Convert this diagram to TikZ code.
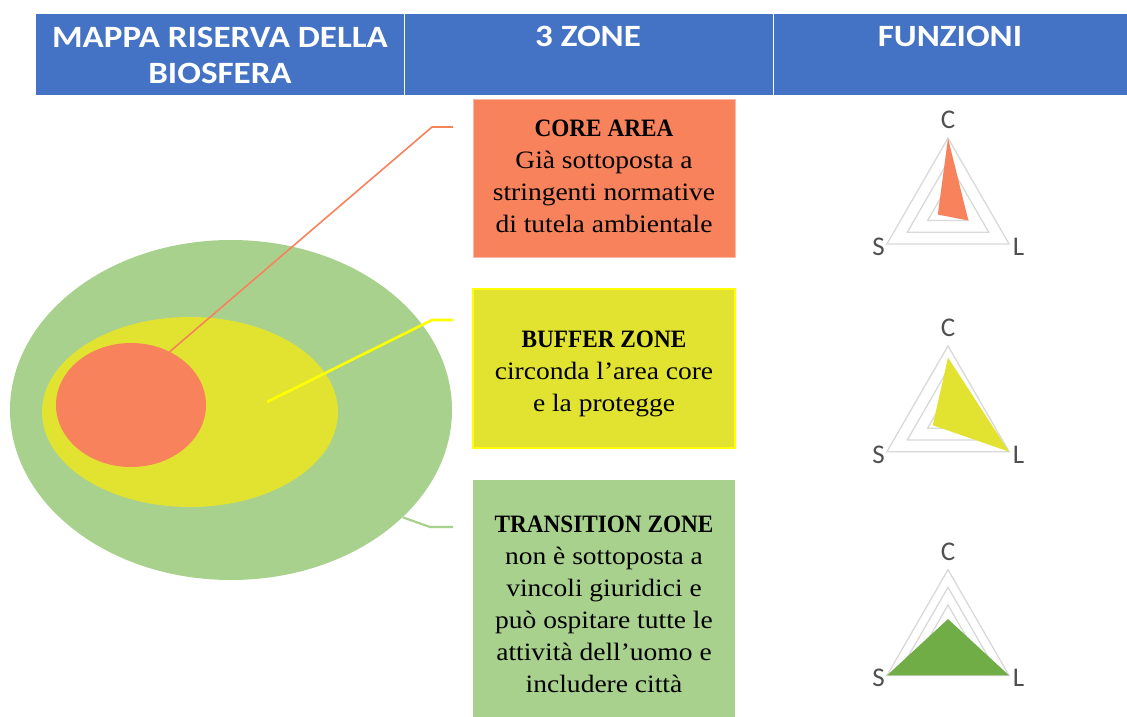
\documentclass[tikz,border=0pt]{standalone}
\usepackage{fontspec}
\setmainfont[FakeStretch=1.1]{Liberation Serif}
\newfontfamily\hdser[FakeStretch=0.93]{Liberation Serif}
\newfontfamily\carl{Carlito}
\newfontfamily\carlwide[FakeStretch=1.13]{Carlito}
\usetikzlibrary{shapes.geometric}
\definecolor{hdr}{HTML}{4472C4}
\definecolor{coreC}{RGB}{247,130,91}
\definecolor{bufC}{RGB}{226,227,49}
\definecolor{bufLine}{HTML}{FFFF00}
\definecolor{transC}{HTML}{A9D18E}
\definecolor{radGreen}{HTML}{70AD47}
\definecolor{gridC}{HTML}{D9D9D9}
\definecolor{labC}{HTML}{505050}
\newcommand\radarchart[6]{%
  \begin{scope}[shift={(948,#1)}]
    \foreach \f in {#5}
      \draw[gridline] (270:{70.5*\f}) -- (30:{70.5*\f}) -- (150:{70.5*\f}) -- cycle;
    \fill[#6] (270:{70.5*#2}) -- (30:{70.5*#4}) -- (150:{70.5*#3}) -- cycle;
  \end{scope}}
\newcommand\zonetitle[1]{{\hdser\bfseries #1}}
\newcommand\radtxt[1]{{\carl\fontsize{27}{30}\selectfont #1}}
\begin{document}
\begin{tikzpicture}[x=1pt,y=-1pt,
  hcell/.style={fill=hdr,draw=none,inner sep=0,minimum height=81},
  htext/.style={text=white,font=\carlwide\bfseries\fontsize{31}{36}\selectfont,align=center,inner sep=0},
  zonebox/.style={draw=none,inner sep=0,minimum width=262},
  boxtext/.style={font=\fontsize{25}{32}\selectfont,align=center,inner sep=0,text=black},
  gridline/.style={draw=gridC,line width=1.3},
  radlab/.style={text=labC,inner sep=0},
  zone/.style={ellipse,draw=none,inner sep=0}]
\useasboundingbox (0,0) rectangle (1127,717);
\fill[white] (0,0) rectangle (1127,717);
% header
\node[hcell,minimum width=367.5] (h1) at (219.75,54.5) {};
\node[hcell,minimum width=368] (h2) at (588.5,54.5) {};
\node[hcell,minimum width=353.5] (h3) at (950.25,54.5) {};
\node[htext] (t1) at (220,55) {MAPPA RISERVA DELLA\\BIOSFERA};
\node[htext,anchor=base] (t2) at (588,47) {3 ZONE};
\node[htext,anchor=base] (t3) at (950,47) {FUNZIONI};
% zones map
\node[zone,fill=transC,minimum width=442,minimum height=340] (transE) at (231,410) {};
\node[zone,fill=bufC,minimum width=296,minimum height=190] (bufE) at (190,412) {};
\node[zone,fill=coreC,minimum width=150,minimum height=124] (coreE) at (131,405) {};
% boxes
\node[zonebox,fill=coreC,draw=coreC!55!white,line width=1,minimum height=158] (coreB) at (604,178) {};
\node[boxtext] (coreT) at (604,176.4) {\zonetitle{CORE AREA}\\Già sottoposta a\\stringenti normative\\di tutela ambientale};
\node[zonebox,fill=bufC,draw=bufLine,line width=2.5,minimum height=159] (bufB) at (604,368.5) {};
\node[boxtext] (bufT) at (604,373.6) {\zonetitle{BUFFER ZONE}\\circonda l’area core\\e la protegge};
\node[zonebox,fill=transC,minimum height=237] (transB) at (604,598.5) {};
\node[boxtext] (transT) at (604,604.2) {\zonetitle{TRANSITION ZONE}\\non è sottoposta a\\vincoli giuridici e\\può ospitare tutte le\\attività dell’uomo e\\includere città};
% connectors
\coordinate (coreBend) at (432,127);
\coordinate (coreEnd) at (453,127);
\coordinate (bufStart) at (267,402);
\coordinate (bufBend) at (432,320);
\coordinate (bufEnd) at (453,320);
\coordinate (transBend) at (430,527);
\coordinate (transEnd) at (453,527);
\draw[coreC,line width=1.6] (coreE.54) -- (coreBend) -- (coreEnd);
\draw[bufLine,line width=2.6] (bufStart) -- (bufBend) -- (bufEnd);
\draw[transC,line width=2.2] (transE.-32) -- (transBend) -- (transEnd);
% radar charts
\radarchart{208.7}{1}{0.1667}{0.3333}{0.3333,0.6667,1}{coreC}
\radarchart{416.4}{0.8333}{0.25}{1}{0.3333,0.6667,1}{bufC}
\radarchart{640.2}{0.3}{1}{1}{0.25,0.5,0.75,1}{radGreen}
\foreach \cy/\k in {208.7/1,416.4/2,640.2/3}{
  \node[radlab] (C\k) at (948,\cy-88.5) {\radtxt{C}};
  \node[radlab] (S\k) at (878.5,\cy+38) {\radtxt{S}};
  \node[radlab] (L\k) at (1018.5,\cy+38) {\radtxt{L}};
}
\end{tikzpicture}
\end{document}
